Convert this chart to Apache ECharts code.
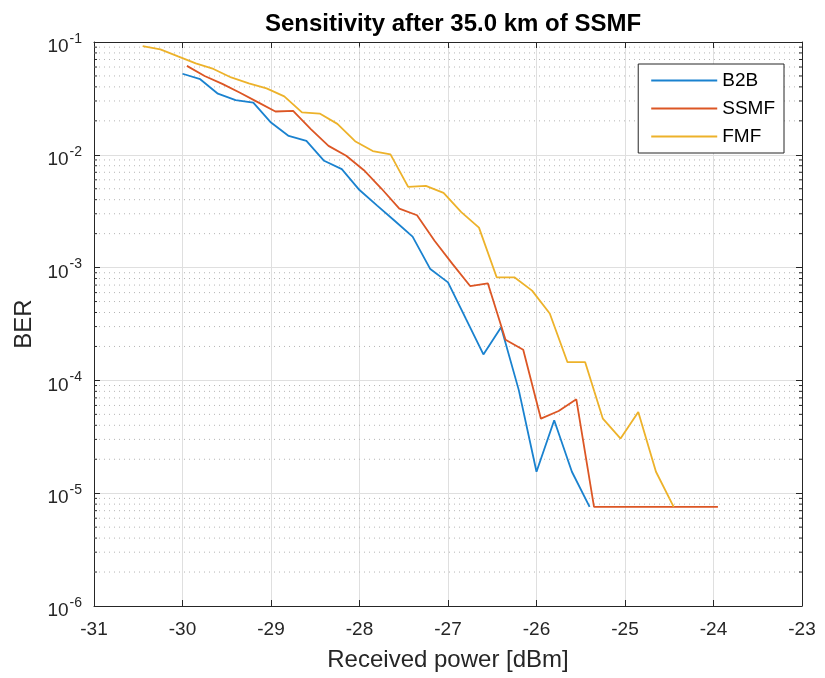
<!DOCTYPE html>
<html><head><meta charset="utf-8">
<script src="https://cdn.jsdelivr.net/npm/echarts@6/dist/echarts.min.js"></script>
<style>html,body{margin:0;padding:0;background:#fff}#c{width:825px;height:678px}</style>
</head><body><div id="c"></div>
<script>
const titleText = 'Sensitivity after 35.0 km of SSMF';
const xTicks = [-31,-30,-29,-28,-27,-26,-25,-24,-23];
const yTicks = [1e-6,1e-5,1e-4,1e-3,1e-2,1e-1];
const minorY = [];
[1e-6,1e-5,1e-4,1e-3,1e-2].forEach(d=>{for(let k=2;k<=9;k++) minorY.push(+(k*d).toPrecision(3));});

const b2bX = [-30,-29.8,-29.6,-29.4,-29.2,-29.0,-28.8,-28.6,-28.4,-28.2,-28.0,-27.8,-27.6,-27.4,-27.2,-27.0,-26.8,-26.6,-26.4,-26.2,-26.0,-25.8,-25.6,-25.4];
const b2bY = [0.0523,0.0468,0.0348,0.0305,0.029,0.0193,0.0147,0.0133,0.00885,0.00747,0.00487,0.00354,0.00259,0.00188,0.00097,0.00074,0.000354,0.00017,0.000296,8.2e-5,1.55e-5,4.43e-5,1.55e-5,7.57e-6];

const ssmfX = [-29.95,-29.75,-29.55,-29.35,-29.15,-28.95,-28.75,-28.55,-28.35,-28.15,-27.95,-27.75,-27.55,-27.35,-27.15,-26.95,-26.75,-26.55,-26.35,-26.15,-25.95,-25.75,-25.55,-25.35,-25.15,-24.95,-24.75,-24.55,-24.35,-24.15,-23.95];
const ssmfY = [0.0614,0.05,0.0425,0.0355,0.0293,0.0242,0.0245,0.0169,0.012,0.0098,0.0073,0.005,0.00333,0.00291,0.00172,0.00108,0.000686,0.000726,0.000229,0.000187,4.58e-5,5.35e-5,6.8e-5,7.57e-6,7.57e-6,7.57e-6,7.57e-6,7.57e-6,7.57e-6,7.57e-6,7.57e-6];

const fmfX = [-30.45,-30.25,-30.05,-29.85,-29.65,-29.45,-29.25,-29.05,-28.85,-28.65,-28.45,-28.25,-28.05,-27.85,-27.65,-27.45,-27.25,-27.05,-26.85,-26.65,-26.45,-26.25,-26.05,-25.85,-25.65,-25.45,-25.25,-25.05,-24.85,-24.65,-24.45];
const fmfY = [0.092,0.086,0.0745,0.0646,0.0577,0.0485,0.043,0.0388,0.033,0.0238,0.0232,0.0188,0.0132,0.0108,0.0101,0.0052,0.0053,0.0046,0.0031,0.00226,0.00082,0.00082,0.000625,0.000392,0.000145,0.000145,4.58e-5,3.05e-5,5.24e-5,1.55e-5,7.57e-6];

const names = ['B2B','SSMF','FMF'];
const colors = ['#1A82CF','#DC5624','#EDB22A'];
const FONT = 'Liberation Sans';
const TXT = '#262626';
const zip = (xs, ys) => xs.map((x,i)=>[x, ys[i]]);

const chart = echarts.init(document.getElementById('c'), null, {renderer:'canvas'});
const xMin = xTicks[0], xMax = xTicks[xTicks.length-1];

const option = {
  animation:false,
  textStyle:{fontFamily:FONT},
  title:{text:titleText, left:448, top:7, textAlign:'center',
    textStyle:{fontFamily:FONT, fontSize:24, fontWeight:'bold', color:'#000'}},
  grid:{left:94, right:23, top:42, bottom:72, containLabel:false},
  legend:{
    data:names, orient:'vertical', right:41, top:64,
    backgroundColor:'#fff', borderColor:'#262626', borderWidth:1, borderRadius:0,
    padding:[7,9,7,12], itemWidth:66, itemHeight:19, itemGap:9, itemTextGap:5,
    itemStyle:{opacity:0},
    textStyle:{fontFamily:FONT, fontSize:19, lineHeight:19, color:'#000'}
  },
  xAxis:[{
    type:'value', min:xMin, max:xMax, interval:1,
    name:'Received power [dBm]', nameLocation:'middle', nameGap:42,
    nameTextStyle:{fontFamily:FONT, fontSize:24, color:TXT},
    axisLine:{lineStyle:{color:TXT, width:1}},
    axisTick:{inside:true, length:6, lineStyle:{color:TXT}},
    axisLabel:{fontFamily:FONT, fontSize:19, color:TXT, margin:14},
    splitLine:{show:true, lineStyle:{color:'#dfdfdf', width:1}}
  },{
    type:'value', position:'top', min:xMin, max:xMax, interval:1,
    axisLine:{show:true, lineStyle:{color:TXT}},
    axisTick:{inside:true, length:6, lineStyle:{color:TXT}},
    axisLabel:{show:false}, splitLine:{show:false}
  }],
  yAxis:[{
    type:'log', logBase:10, min:yTicks[0], max:yTicks[yTicks.length-1],
    name:'BER', nameLocation:'middle', nameGap:55, nameRotate:90,
    nameTextStyle:{fontFamily:FONT, fontSize:24, color:TXT},
    axisLine:{show:true, lineStyle:{color:TXT}},
    axisTick:{inside:true, length:6, lineStyle:{color:TXT}},
    axisLabel:{fontFamily:FONT, fontSize:19, color:TXT, margin:12,
      formatter:v=>'{b|10}{s|'+Math.round(Math.log10(v))+'}',
      rich:{b:{fontFamily:FONT, fontSize:19, color:TXT, padding:[10,0,0,0]},
            s:{fontFamily:FONT, fontSize:14, color:TXT, padding:[0,0,6,1]}}},
    splitLine:{show:true, lineStyle:{color:'#dfdfdf', width:1}}
  },{
    type:'log', logBase:10, position:'right', min:yTicks[0], max:yTicks[yTicks.length-1],
    axisLine:{show:true, lineStyle:{color:TXT}},
    axisTick:{inside:true, length:6, lineStyle:{color:TXT}},
    axisLabel:{show:false}, splitLine:{show:false}
  }],
  series:[
    {
      type:'custom', name:'minorGrid', silent:true, z:1,
      data:minorY.map(v=>[v]),
      encode:{y:0},
      renderItem:(params, api)=>{
        const v = api.value(0);
        const p0 = api.coord([xMin, v]);
        const p1 = api.coord([xMax, v]);
        return {type:'group', children:[
          {type:'line', shape:{x1:p0[0], y1:p0[1], x2:p1[0], y2:p1[1]},
           style:{stroke:'#b5b5b5', lineWidth:1, lineDash:[1,4]}},
          {type:'line', shape:{x1:p0[0], y1:p0[1], x2:p0[0]+3, y2:p0[1]},
           style:{stroke:TXT, lineWidth:1}},
          {type:'line', shape:{x1:p1[0]-3, y1:p1[1], x2:p1[0], y2:p1[1]},
           style:{stroke:TXT, lineWidth:1}}
        ]};
      }
    },
    {name:names[0], type:'line', data:zip(b2bX,b2bY), symbol:'none', z:3,
      lineStyle:{color:colors[0], width:1.8}, itemStyle:{color:colors[0]}},
    {name:names[1], type:'line', data:zip(ssmfX,ssmfY), symbol:'none', z:4,
      lineStyle:{color:colors[1], width:1.8}, itemStyle:{color:colors[1]}},
    {name:names[2], type:'line', data:zip(fmfX,fmfY), symbol:'none', z:5,
      lineStyle:{color:colors[2], width:1.8}, itemStyle:{color:colors[2]}}
  ]
};
chart.setOption(option);
</script></body></html>
